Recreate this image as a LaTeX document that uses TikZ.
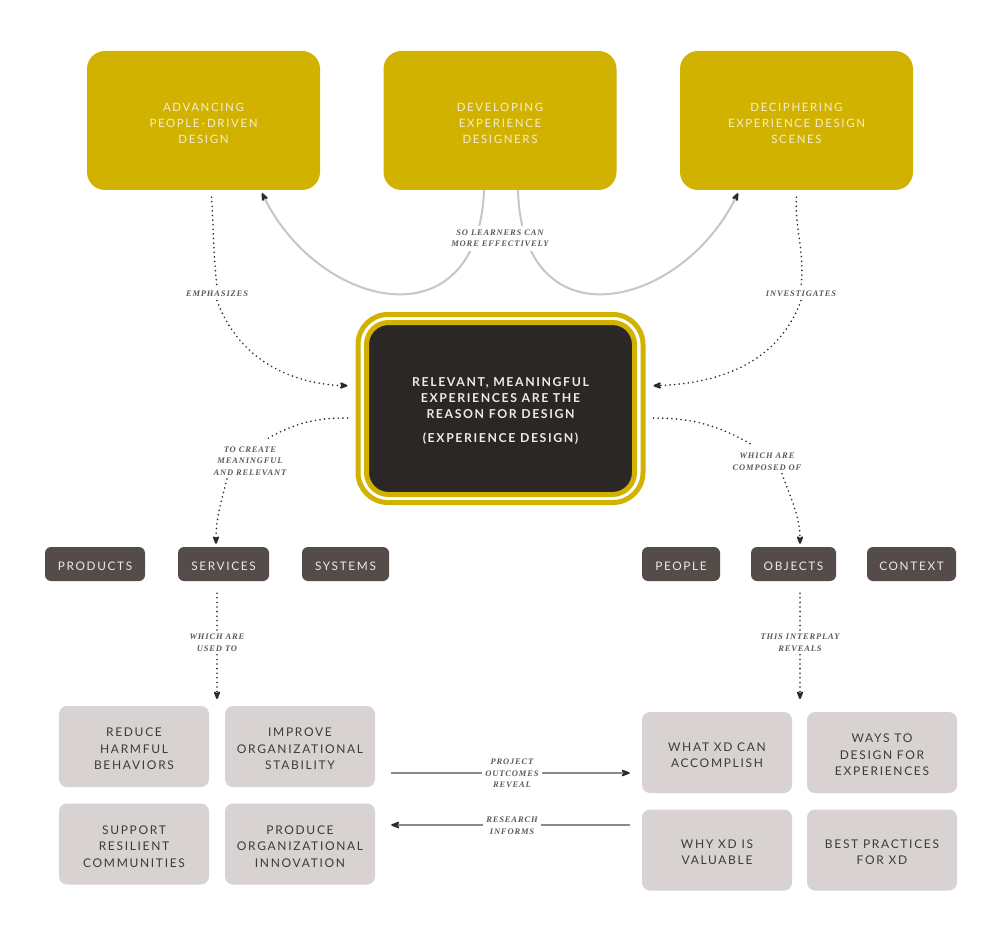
\documentclass[tikz,border=0pt]{standalone}
\usepackage{fontspec}
\usetikzlibrary{arrows.meta}
\newfontfamily\boxfont[LetterSpace=14]{Lato}
\newfontfamily\corefont[LetterSpace=13]{Lato}
\newfontfamily\labfont[LetterSpace=10]{Liberation Serif}
\definecolor{gold}{HTML}{D2B200}
\definecolor{cream}{HTML}{F5EDCB}
\definecolor{coreblack}{HTML}{2B2726}
\definecolor{coretext}{HTML}{EEEAE6}
\definecolor{chip}{HTML}{544C49}
\definecolor{chiptext}{HTML}{EDE8E6}
\definecolor{pale}{HTML}{D8D3D2}
\definecolor{paletext}{HTML}{3E3A39}
\definecolor{labgray}{HTML}{5A5A5A}
\definecolor{curvegray}{HTML}{C6C6C6}
\definecolor{hgray}{HTML}{8A8A8A}
\definecolor{tipc}{HTML}{2A2A2A}
\newcommand{\topstrut}{\rule{0pt}{14.2pt}}
\newcommand{\palestrut}{\rule{0pt}{13.6pt}}
\newcommand{\corestrut}{\rule{0pt}{14.8pt}}
\tikzset{
  topbox/.style={rectangle, rounded corners=18pt, fill=gold, minimum width=233pt, minimum height=139pt,
    align=center, text=cream, font=\boxfont\fontsize{11.5}{16}\selectfont},
  chipbox/.style={rectangle, rounded corners=6pt, fill=chip, minimum height=34pt, inner xsep=0pt,
    text=chiptext, text height=12.5pt, text depth=0pt, font=\boxfont\fontsize{11.8}{16}\selectfont},
  palebox/.style={rectangle, rounded corners=8pt, fill=pale, minimum width=150pt, minimum height=81pt,
    align=center, text=paletext, font=\boxfont\fontsize{12}{16.3}\selectfont},
  lab/.style={align=center, fill=white, inner sep=3.5pt, text=labgray,
    font=\labfont\bfseries\itshape\fontsize{8.5}{11.5}\selectfont},
  dotline/.style={draw=tipc, line width=1.8pt, line cap=round, dash pattern=on 0pt off 4.6pt},
  tip/.style={-{Stealth[length=11pt,width=8.5pt,color=tipc,round=false]}},
  curveline/.style={draw=curvegray, line width=2pt},
  hline/.style={draw=hgray, line width=1.5pt},
}
\begin{document}
\begin{tikzpicture}[x=1pt,y=-1pt]
\fill[white] (0,0) rectangle (1000,941);
\useasboundingbox (0,0) rectangle (1000,941);

% top boxes
\node[topbox] (adv) at (203.5,120.5) {\topstrut ADVANCING\\PEOPLE-DRIVEN\\DESIGN};
\node[topbox] (dev) at (500,120.5) {\topstrut DEVELOPING\\EXPERIENCE\\DESIGNERS};
\node[topbox] (dec) at (796.5,120.5) {\topstrut DECIPHERING\\EXPERIENCE DESIGN\\SCENES};

% core
\node[rectangle, rounded corners=30pt, draw=gold, line width=5pt, fill=white,
  minimum width=285pt, minimum height=188pt] (core) at (500.5,408.5) {};
\node[rectangle, rounded corners=22pt, draw=gold, line width=5pt, fill=coreblack,
  minimum width=268pt, minimum height=172pt, align=center, text=coretext,
  font=\corefont\bfseries\fontsize{12.3}{16}\selectfont] (corein) at (500.5,408.5)
  {\corestrut RELEVANT, MEANINGFUL\\EXPERIENCES ARE THE\\REASON FOR DESIGN\\[8pt](EXPERIENCE DESIGN)};

% chips
\node[chipbox, minimum width=100pt] (products) at (95,564) {PRODUCTS};
\node[chipbox, minimum width=91pt] (services) at (223.5,564) {SERVICES};
\node[chipbox, minimum width=87pt] (systems) at (345.5,564) {SYSTEMS};
\node[chipbox, minimum width=78pt] (people) at (681,564) {PEOPLE};
\node[chipbox, minimum width=85pt] (objects) at (793.5,564) {OBJECTS};
\node[chipbox, minimum width=89pt] (context) at (911.5,564) {CONTEXT};

% pale boxes
\node[palebox] (reduce) at (134,746.5) {\palestrut REDUCE\\HARMFUL\\BEHAVIORS};
\node[palebox] (improve) at (300,746.5) {\palestrut IMPROVE\\ORGANIZATIONAL\\STABILITY};
\node[palebox] (support) at (134,844) {\palestrut SUPPORT\\RESILIENT\\COMMUNITIES};
\node[palebox] (produce) at (300,844) {\palestrut PRODUCE\\ORGANIZATIONAL\\INNOVATION};
\node[palebox] (whatxd) at (717,752.5) {\palestrut WHAT XD CAN\\ACCOMPLISH};
\node[palebox] (ways) at (882,752.5) {\palestrut WAYS TO\\DESIGN FOR\\EXPERIENCES};
\node[palebox] (why) at (717,850) {\palestrut WHY XD IS\\VALUABLE};
\node[palebox] (best) at (882,850) {\palestrut BEST PRACTICES\\FOR XD};

% gray curves
\draw[curveline, tip] ([xshift=-16]dev.south) .. controls (478,345) and (320,310) .. ([xshift=58.5,yshift=-3]adv.south);
\draw[curveline, tip] ([xshift=18]dev.south) .. controls (522,345) and (680,310) .. ([xshift=-58.5,yshift=-3]dec.south);
\node[lab] (learn) at (500,238.5) {SO LEARNERS CAN\\MORE EFFECTIVELY};

% emphasizes
\node[lab] (emph) at (217,294) {EMPHASIZES};
\draw[dotline, shorten <=7pt] ([xshift=7.5]adv.south) to[out=-86,in=96] (emph.north);
\draw[dotline, tip, shorten >=8pt] (emph.south) to[out=-70,in=178] ([yshift=22.5]core.west);

% investigates
\node[lab] (invest) at (801,294) {INVESTIGATES};
\draw[dotline, shorten <=7pt] ([xshift=0.5]dec.south) to[out=-94,in=84] (invest.north);
\draw[dotline, tip, shorten >=8pt] (invest.south) to[out=-110,in=2] ([yshift=22.5]core.east);

% to create
\node[lab] (create) at (250,461) {TO CREATE\\MEANINGFUL\\AND RELEVANT};
\draw[dotline, shorten <=8pt] ([yshift=-9.5]core.west) to[out=180,in=30] ([xshift=17,yshift=4]create.north);
\draw[dotline, tip, shorten >=3pt] ([xshift=-23]create.south) to[out=-105,in=90] ([xshift=-7.5]services.north);

% composed of
\node[lab] (composed) at (767,461.5) {WHICH ARE\\COMPOSED OF};
\draw[dotline, shorten <=8pt] ([yshift=-9.5]core.east) to[out=0,in=150] ([xshift=-14,yshift=4]composed.north);
\draw[dotline, tip, shorten >=3pt] ([xshift=15]composed.south) to[out=-70,in=90] ([xshift=6.5]objects.north);

% used to
\node[lab] (usedto) at (217,642.5) {WHICH ARE\\USED TO};
\coordinate (usedtip) at (217,699);
\draw[dotline, shorten <=12pt] ([xshift=-6.5]services.south) -- (usedto.north);
\draw[dotline, tip] (usedto.south) -- (usedtip);

% interplay
\node[lab] (interplay) at (800,642.5) {THIS INTERPLAY\\REVEALS};
\coordinate (objtip) at (800,699);
\draw[dotline, shorten <=12pt] ([xshift=6.5]objects.south) -- (interplay.north);
\draw[dotline, tip] (interplay.south) -- (objtip);

% horizontal arrows
\node[lab] (outcomes) at (512,773.5) {PROJECT\\OUTCOMES\\REVEAL};
\draw[hline, shorten <=16pt] ([yshift=-26.5]improve.east) -- (outcomes.west |- 0,773);
\draw[hline, tip, shorten >=12pt] (outcomes.east |- 0,773) -- ([yshift=-20.5]whatxd.west);
\node[lab] (informs) at (512,825.5) {RESEARCH\\INFORMS};
\draw[hline, shorten <=12pt] ([yshift=25]why.west) -- (informs.east |- 0,825);
\draw[hline, tip, shorten >=16pt] (informs.west |- 0,825) -- ([yshift=19]produce.east);
\end{tikzpicture}
\end{document}
